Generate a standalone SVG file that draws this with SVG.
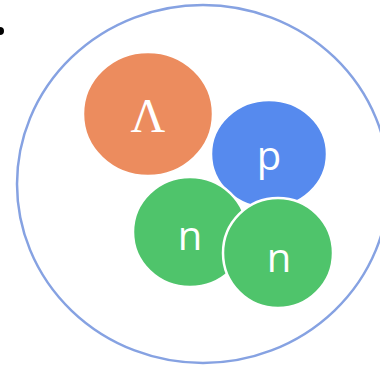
<svg xmlns="http://www.w3.org/2000/svg" width="380" height="366" viewBox="0 0 380 366">
<style>
.p{stroke:#fff;stroke-width:2.5}
.t{fill:#fff;font-family:"Open Sans","Liberation Sans",sans-serif;font-size:40px;text-anchor:middle}
.s{fill:#fff;font-family:"Liberation Serif",serif;font-size:48px;text-anchor:middle}
</style>
<rect width="380" height="366" fill="#fff"/>
<circle cx="0" cy="31" r="4" fill="#000"/>
<g id="nucleus"><ellipse cx="203" cy="184" rx="186" ry="179" fill="none" stroke="#86a2e2" stroke-width="2.5"/></g>
<g id="lambda"><ellipse class="p" cx="148" cy="114" rx="65" ry="62" fill="#ec8c5e"/><text class="s" x="148" y="132">Λ</text></g>
<g id="proton"><ellipse class="p" cx="269" cy="154" rx="58" ry="54" fill="#568aee"/><text class="t" x="269" y="170">p</text></g>
<g id="neutron1"><ellipse class="p" cx="190" cy="232" rx="57" ry="55" fill="#4fc46b"/><text class="t" x="190" y="250">n</text></g>
<g id="neutron2"><ellipse class="p" cx="278" cy="253" rx="55" ry="55" fill="#4fc46b"/><text class="t" x="279" y="272">n</text></g>
<g id="connectors"/>
</svg>
